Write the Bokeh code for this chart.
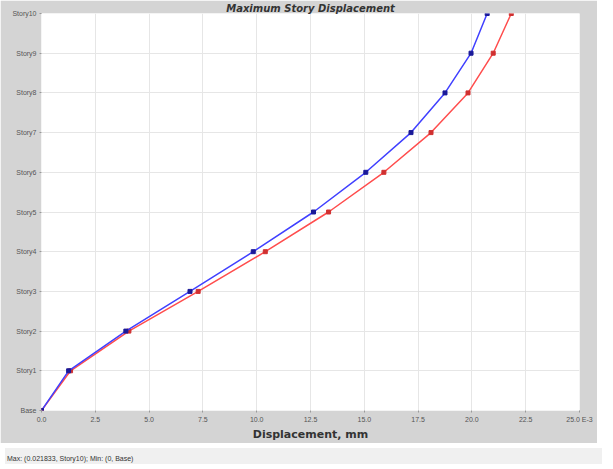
from bokeh.plotting import figure
from bokeh.models import FixedTicker, Div
from bokeh.layouts import column
from bokeh.embed import file_html
from bokeh.resources import INLINE

stories = ["Base", "Story1", "Story2", "Story3", "Story4", "Story5",
           "Story6", "Story7", "Story8", "Story9", "Story10"]
levels = list(range(len(stories)))
disp_x = [0.0, 1.26, 3.92, 6.90, 9.84, 12.64, 15.07, 17.17, 18.75, 19.96, 20.71]
disp_y = [0.0, 1.35, 4.06, 7.28, 10.40, 13.34, 15.91, 18.10, 19.82, 20.99, 21.83]
x_ticks = [0.0, 2.5, 5.0, 7.5, 10.0, 12.5, 15.0, 17.5, 20.0, 22.5, 25.0]
x_tick_labels = ["0.0", "2.5", "5.0", "7.5", "10.0", "12.5", "15.0", "17.5", "20.0", "22.5", "25.0 E-3"]
title_text = "Maximum Story Displacement"
status_text = "Max: (0.021833, Story10); Min: (0, Base)"

GREY = "#d4d4d4"

p = figure(width=597, height=437, output_backend="svg", toolbar_location=None,
           x_range=(0, 25), y_range=(0, 10),
           min_border_left=41, min_border_right=18, min_border_top=0, min_border_bottom=28)
p.frame_width = 538
p.frame_height = 397
p.border_fill_color = GREY
p.background_fill_color = "white"
p.outline_line_color = None

p.title.text = title_text
p.title.align = "center"
p.title.text_font = "DejaVu Sans"
p.title.text_font_style = "bold italic"
p.title.text_font_size = "10px"
p.title.text_color = "#333333"
p.title.standoff = 0
p.title.offset = 0

p.xaxis.ticker = FixedTicker(ticks=x_ticks)
p.xaxis.major_label_overrides = {t: l for t, l in zip(x_ticks, x_tick_labels)}
p.yaxis.ticker = FixedTicker(ticks=levels)
p.yaxis.major_label_overrides = {i: s for i, s in zip(levels, stories)}

for ax in (p.xaxis[0], p.yaxis[0]):
    ax.axis_line_color = None
    ax.major_tick_line_color = "#999999"
    ax.major_tick_out = 2
    ax.major_tick_in = 0
    ax.minor_tick_line_color = None
    ax.major_label_text_font = "Liberation Sans"
    ax.major_label_text_font_size = "7px"
    ax.major_label_text_color = "#555555"
    ax.major_label_standoff = 3

p.xaxis.axis_label = "Displacement, mm"
p.xaxis.axis_label_text_font = "DejaVu Sans"
p.xaxis.axis_label_text_font_style = "bold"
p.xaxis.axis_label_text_font_size = "11px"
p.xaxis.axis_label_text_color = "#333333"
p.xaxis.axis_label_standoff = 2

p.xgrid.grid_line_color = "#e6e6e6"
p.ygrid.grid_line_color = "#e6e6e6"

p.line(disp_y, levels, line_color="#ff4d4d", line_width=1.5)
p.scatter(disp_y, levels, marker="square", size=4, color="#d03030")
p.line(disp_x, levels, line_color="#4040ff", line_width=1.5)
p.scatter(disp_x, levels, marker="square", size=4, color="#1a1a99")

status = Div(text=status_text, width=597, height=16,
             styles={"background-color": "#f0f0f0", "font-family": "Liberation Sans",
                     "font-size": "7px", "color": "#333333", "padding-left": "2px",
                     "line-height": "22px", "box-sizing": "border-box"})

layout = column(p, status, spacing=0)
open("out.html", "w").write(file_html(layout, INLINE))
